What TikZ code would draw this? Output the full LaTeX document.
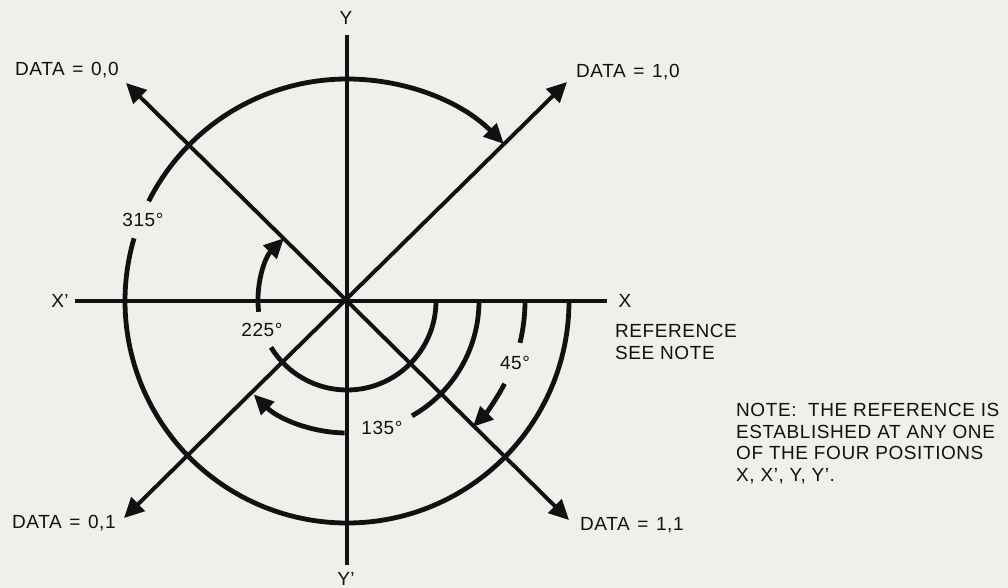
\documentclass[tikz,border=0pt]{standalone}
\usepackage{fontspec}
\setmainfont{Liberation Sans}[LetterSpace=3.0]
\usetikzlibrary{arrows.meta}
\definecolor{paper-bg}{HTML}{EFEFEC}
\definecolor{ink}{HTML}{111111}

\begin{document}
\begin{tikzpicture}[x=1pt, y=1pt,
      every node/.style={font=\fontsize{19}{21.7}\selectfont, text=ink, inner sep=0pt},
      axis/.style={draw=ink, line width=3.6pt},
      ray/.style={draw=ink, line width=3.9pt,
        {Triangle[length=20pt,width=19pt]}-{Triangle[length=20pt,width=19pt]}},
      sweep/.style={draw=ink, line width=4.8pt},
      sweeptip/.style={sweep, -{Triangle[length=20pt,width=18pt]}}]
    \fill[paper-bg] (-347,-287) rectangle (661,301);
    \useasboundingbox (-347,-287) rectangle (661,301);
    % axes
    \coordinate (O) at (0,0);
    \coordinate (XL) at (-272,0);
    \coordinate (XR) at (260,0);
    \coordinate (YT) at (0,266);
    \coordinate (YB) at (0,-264);
    \draw[axis] (XL) -- (XR);
    \draw[axis] (YT) -- (YB);
    \node (Y)  at (-1,283)  {Y};
    \node (YP) at (-1,-278) {Y’};
    \node (XP) at (-287,0)  {X’};
    \node (X)  at (278,0)   {X};
    % data directions
    \coordinate (D00) at (-221,218);
    \coordinate (D10) at (220,219);
    \coordinate (D01) at (-223,-217);
    \coordinate (D11) at (222,-219);
    \draw[ray] (D00) -- (D11);
    \draw[ray] (D01) -- (D10);
    \node[anchor=west] (L00) at (-332,231)  {DATA\hspace{0.4em}=\hspace{0.4em}0,0};
    \node[anchor=west] (L10) at (229,229)   {DATA\hspace{0.4em}=\hspace{0.4em}1,0};
    \node[anchor=west] (L01) at (-335,-222) {DATA\hspace{0.4em}=\hspace{0.4em}0,1};
    \node[anchor=west] (L11) at (233,-224)  {DATA\hspace{0.4em}=\hspace{0.4em}1,1};
    % phase arcs, all from the X reference
    \draw[sweep]    (0:222) arc[start angle=0, end angle=-196.4, radius=222];
    \draw[sweeptip] (153.3:222) arc[start angle=153.3, end angle=45, radius=222];
    \draw[sweep]    (0:89) arc[start angle=0, end angle=-148.6, radius=89];
    \draw[sweeptip] (187:89) arc[start angle=187, end angle=135, radius=89];
    \draw[sweep]    (0:132) arc[start angle=0, end angle=-60.5, radius=132];
    \draw[sweeptip] (-91:132) arc[start angle=-91, end angle=-135, radius=132];
    \draw[sweep]    (0:178) arc[start angle=0, end angle=-13.6, radius=178];
    \draw[sweeptip] (-27.7:178) arc[start angle=-27.7, end angle=-45, radius=178];
    \node (A315) at (-204,81)  {315°};
    \node (A225) at (-85,-29)  {225°};
    \node (A135) at (35,-127)  {135°};
    \node (A45)  at (168,-62)  {45°};
    % notes
    \node[anchor=west, align=left] (REF) at (268,-41) {REFERENCE\\SEE NOTE};
    \node[anchor=west, align=left] (NOTE) at (389,-142.5)
          {NOTE:\ \ THE REFERENCE IS\\ESTABLISHED AT ANY ONE\\OF THE FOUR POSITIONS\\X, X’, Y, Y’.};
  \end{tikzpicture}
\end{document}
